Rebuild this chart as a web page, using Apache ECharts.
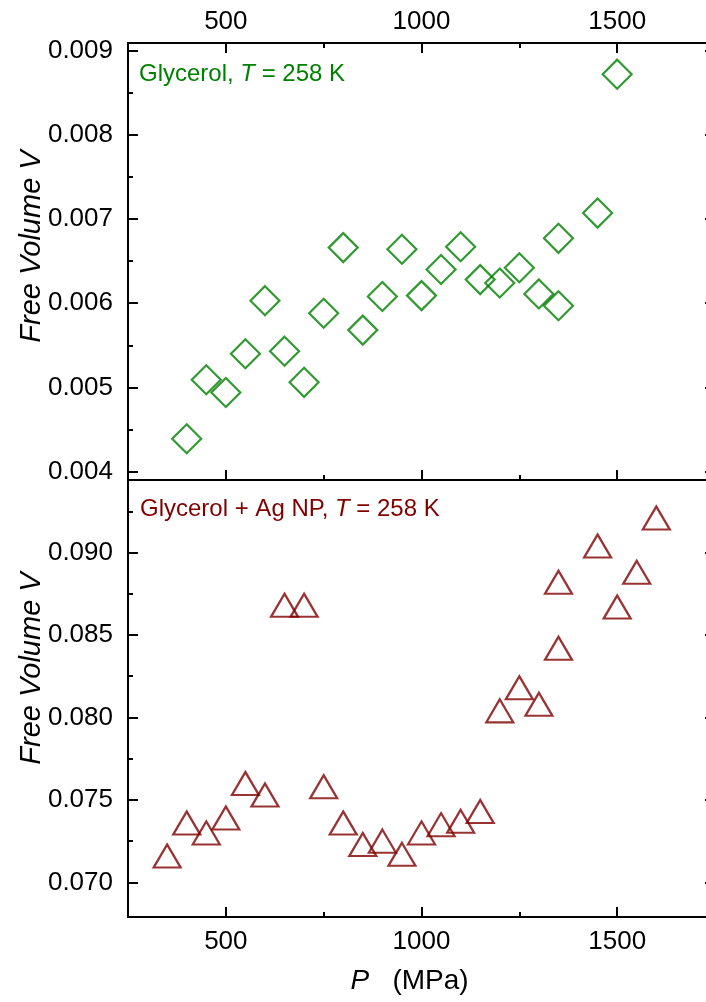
<!DOCTYPE html>
<html>
<head>
<meta charset="utf-8">
<script src="https://cdn.jsdelivr.net/npm/echarts@6/dist/echarts.min.js"></script>
<style>
  html, body { margin: 0; padding: 0; background: #fff; }
  #chart { width: 706px; height: 1002px; }
</style>
</head>
<body>
<div id="chart"></div>
<script>
// --- Data ---
// Top panel: glycerol
const pressureGly = [400, 450, 500, 550, 600, 650, 700, 750, 800, 850, 900, 950,
                     1000, 1050, 1100, 1150, 1200, 1250, 1300, 1350, 1350, 1450, 1500];
const volumeGly = [0.00439, 0.00509, 0.00494, 0.00540, 0.00603, 0.00543, 0.00506, 0.00588,
                   0.00666, 0.00568, 0.00608, 0.00664, 0.00609, 0.00640, 0.00667, 0.00628,
                   0.00624, 0.00642, 0.00611, 0.00677, 0.00597, 0.00707, 0.00872];

// Bottom panel: glycerol + Ag NP
const pressureAg = [350, 400, 450, 500, 550, 600, 650, 700, 750, 800, 850, 900, 950,
                    1000, 1050, 1100, 1150, 1200, 1250, 1300, 1350, 1350, 1450, 1500, 1550, 1600];
const volumeAg = [0.0716, 0.0736, 0.0730, 0.0739, 0.0760, 0.0753, 0.0868, 0.0868, 0.0758,
                  0.0736, 0.0723, 0.0725, 0.0717, 0.0730, 0.0735, 0.0737, 0.0743, 0.0804,
                  0.0818, 0.0808, 0.0882, 0.0842, 0.0904, 0.0867, 0.0888, 0.0921];

// Axis ranges and ticks
const xRange = [250, 1750];
const xMajor = [500, 1000, 1500];
const xMinor = [750, 1250];
const yTopRange = [0.0039, 0.00909];
const yTopMajor = [0.004, 0.005, 0.006, 0.007, 0.008, 0.009];
const yTopMinor = [0.0045, 0.0055, 0.0065, 0.0075, 0.0085];
const yBotRange = [0.0679, 0.0944];
const yBotMajor = [0.070, 0.075, 0.080, 0.085, 0.090];
const yBotMinor = [0.0725, 0.0775, 0.0825, 0.0875, 0.0925];

const FONT = '"Liberation Sans", Arial, sans-serif';
const GREEN = '#008000';
const RED = '#800000';
const BLACK = '#000';

// one frame edge: line + inside ticks at given values, optional labels
function edge(gridIndex, position, range, ticks, tickLen, labels, fmt, extra) {
  return Object.assign({
    type: 'value',
    gridIndex: gridIndex,
    position: position,
    min: range[0],
    max: range[1],
    axisLine: { show: true, onZero: false, lineStyle: { color: BLACK, width: 2 } },
    axisTick: {
      show: ticks.length > 0, inside: true, length: tickLen,
      customValues: ticks, lineStyle: { color: BLACK, width: 2 }
    },
    axisLabel: labels ? {
      show: true, customValues: labels, formatter: fmt,
      color: BLACK, fontFamily: FONT, fontSize: 26,
      margin: position === 'top' ? 8 : (position === 'left' ? 15 : 12)
    } : { show: false },
    splitLine: { show: false },
    minorTick: { show: false }
  }, extra || {});
}

const fmtX = v => String(v);
const fmtY = v => v.toFixed(3);

// y titles sit a bit above the panel centre in the original; padding nudges them up
function yName(shift) {
  return {
    name: 'Free Volume V',
    nameLocation: 'middle',
    nameRotate: 90,
    nameGap: 82,
    nameMoveOverlap: false,
    nameTextStyle: {
      fontFamily: FONT, fontSize: 29, fontStyle: 'italic', color: BLACK,
      padding: [0, 0, 0, shift * 2]
    }
  };
}

const chart = echarts.init(document.getElementById('chart'), null, { renderer: 'canvas' });

chart.setOption({
  animation: false,
  backgroundColor: '#fff',
  grid: [
    { left: 128, top: 43, width: 587, height: 437, outerBoundsMode: 'none' },
    { left: 128, top: 480, width: 587, height: 437, outerBoundsMode: 'none' }
  ],
  xAxis: [
    edge(0, 'top', xRange, xMajor, 10, xMajor, fmtX),          // 0: labels on top
    edge(0, 'top', xRange, xMinor, 5),
    edge(0, 'bottom', xRange, xMajor, 10),
    edge(0, 'bottom', xRange, xMinor, 5),
    edge(1, 'bottom', xRange, xMajor, 10, xMajor, fmtX, {     // 4: bottom labels + title
      name: '{i|P}   (MPa)',
      nameLocation: 'middle',
      nameGap: 50,
      nameMoveOverlap: false,
      nameTextStyle: {
        fontFamily: FONT, fontSize: 28, color: BLACK,
        padding: [0, 24, 0, 0],
        rich: { i: { fontFamily: FONT, fontSize: 28, fontStyle: 'italic', color: BLACK } }
      }
    }),
    edge(1, 'bottom', xRange, xMinor, 5),
    edge(1, 'top', xRange, [], 0)
  ],
  yAxis: [
    edge(0, 'left', yTopRange, yTopMajor, 10, yTopMajor, fmtY, yName(15)),  // 0
    edge(0, 'left', yTopRange, yTopMinor, 5),
    edge(0, 'right', yTopRange, yTopMajor, 10),
    edge(0, 'right', yTopRange, yTopMinor, 5),
    edge(1, 'left', yBotRange, yBotMajor, 10, yBotMajor, fmtY, yName(30)),  // 4
    edge(1, 'left', yBotRange, yBotMinor, 5),
    edge(1, 'right', yBotRange, yBotMajor, 10),
    edge(1, 'right', yBotRange, yBotMinor, 5)
  ],
  series: [
    {
      name: 'Glycerol',
      type: 'scatter',
      xAxisIndex: 0,
      yAxisIndex: 0,
      data: pressureGly.map((p, i) => [p, volumeGly[i]]),
      symbol: 'diamond',
      symbolSize: 29,
      itemStyle: { color: 'rgba(0,0,0,0)', borderColor: GREEN, borderWidth: 2.2 },
      emphasis: { disabled: true }
    },
    {
      name: 'Glycerol + Ag NP',
      type: 'scatter',
      xAxisIndex: 4,
      yAxisIndex: 4,
      data: pressureAg.map((p, i) => [p, volumeAg[i]]),
      symbol: 'triangle',
      symbolSize: [27, 23],
      itemStyle: { color: 'rgba(0,0,0,0)', borderColor: RED, borderWidth: 2.2 },
      emphasis: { disabled: true }
    }
  ],
  graphic: [
    {
      type: 'text',
      left: 139,
      top: 62,
      style: {
        text: '{a|Glycerol, }{b|T}{a| = 258 K}',
        rich: {
          a: { fontFamily: FONT, fontSize: 24, fill: GREEN },
          b: { fontFamily: FONT, fontSize: 24, fill: GREEN, fontStyle: 'italic' }
        }
      }
    },
    {
      type: 'text',
      left: 140,
      top: 497,
      style: {
        text: '{a|Glycerol + Ag NP, }{b|T}{a| = 258 K}',
        rich: {
          a: { fontFamily: FONT, fontSize: 24, fill: RED },
          b: { fontFamily: FONT, fontSize: 24, fill: RED, fontStyle: 'italic' }
        }
      }
    }
  ]
});
</script>
</body>
</html>
